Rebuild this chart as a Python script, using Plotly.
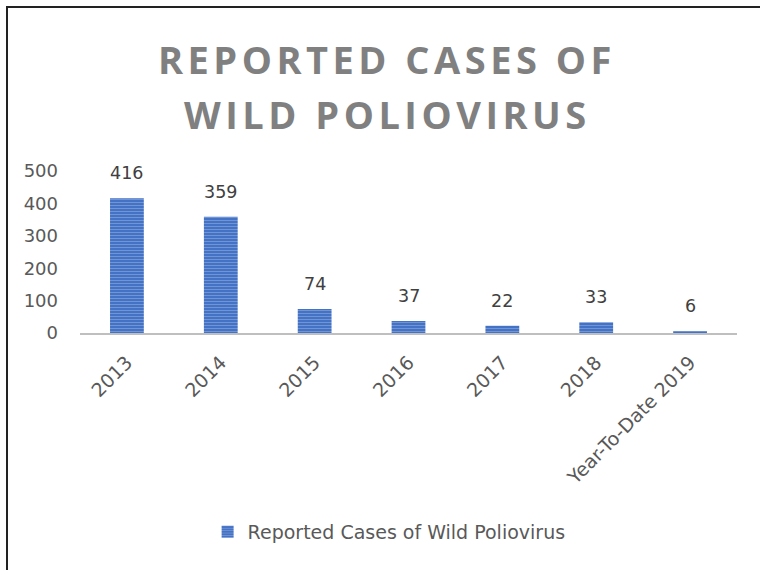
import plotly.graph_objects as go

categories = ["2013", "2014", "2015", "2016", "2017", "2018", "Year-To-Date 2019"]
cases = [416, 359, 74, 37, 22, 33, 6]
y_ticks = [0, 100, 200, 300, 400, 500]
series_name = "Reported Cases of Wild Poliovirus"
title_lines = ["REPORTED CASES OF", "WILD POLIOVIRUS"]

W, H = 760, 570
L, R, T, B = 80, 23, 171, 237
pw, ph = W - L - R, H - T - B

FONT = "DejaVu Sans"
TFONT = "Open Sans"
fig = go.Figure()
fig.add_trace(go.Bar(
    x=categories, y=cases, name=series_name,
    marker=dict(color="#4472C4", line=dict(width=0),
                pattern=dict(shape="-", bgcolor="#4472C4", fgcolor="#9db5e3",
                             size=3, solidity=0.35)),
    showlegend=True,
))

for i, v in enumerate(cases):
    fig.add_annotation(x=i, y=v, text=str(v), showarrow=False, yanchor="middle",
                       yshift=25, font=dict(family=FONT, size=17.5, color="#404040"))

title_y_px = [59, 114]
for t, ypx in zip(title_lines, title_y_px):
    fig.add_annotation(xref="paper", yref="paper",
                       x=(387 - L) / pw, y=(H - B - ypx) / ph,
                       text=f'<span style="letter-spacing:4.5px">{t}</span>',
                       showarrow=False, xanchor="center", yanchor="middle",
                       font=dict(family=TFONT, size=38, color="#808080", weight="bold"))

fig.add_shape(type="rect", xref="paper", yref="paper",
              x0=(7 - L) / pw, x1=(W + 20 - L) / pw,
              y0=(H - B - (H + 20)) / ph, y1=(H - B - 7) / ph,
              line=dict(color="#222222", width=2), fillcolor="rgba(0,0,0,0)", layer="above")

fig.update_layout(
    width=W, height=H,
    margin=dict(l=L, r=R, t=T, b=B, autoexpand=False),
    paper_bgcolor="white", plot_bgcolor="white",
    bargap=0.64,
    font=dict(family=FONT, size=17, color="#595959"),
    xaxis=dict(type="category", range=[-0.5, len(categories) - 0.5],
               showgrid=False, showline=True, linecolor="#BFBFBF",
               linewidth=2, ticks="", tickangle=-45, automargin=False,
               ticklabelstandoff=9,
               tickfont=dict(family=FONT, size=19, color="#595959"), fixedrange=True),
    yaxis=dict(range=[0, 500], tickvals=y_ticks, showgrid=False, showline=False,
               zeroline=False, ticks="", ticklabelstandoff=21, automargin=False,
               tickfont=dict(family=FONT, size=18, color="#595959")),
    legend=dict(orientation="h", xref="container", yref="container",
                x=0.512, y=1 - 532 / H, xanchor="center", yanchor="middle",
                font=dict(family=FONT, size=19, color="#595959")),
    showlegend=True,
)

fig.write_html("out.html", config={"displayModeBar": False},
               post_script="document.body.style.margin='0';")
